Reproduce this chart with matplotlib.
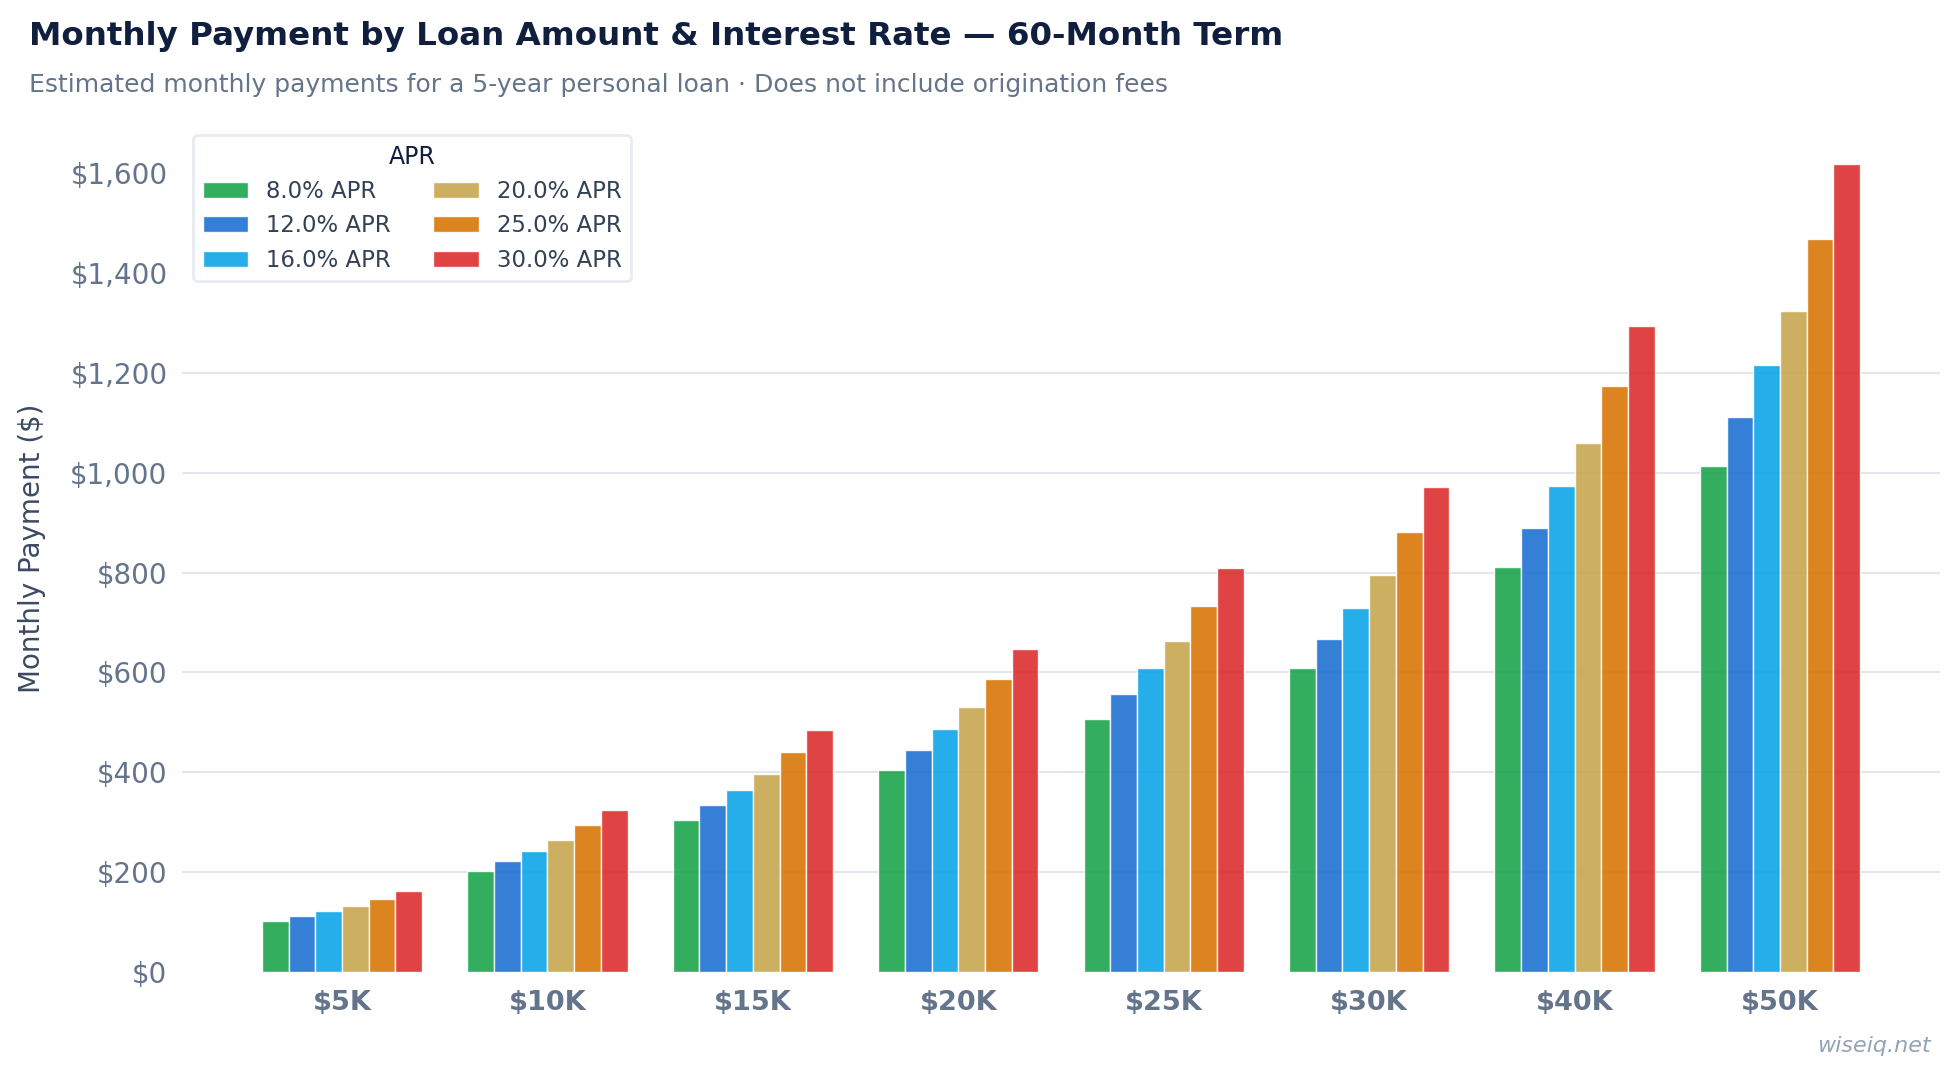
import matplotlib
matplotlib.use("Agg")
import matplotlib.pyplot as plt
import numpy as np
from matplotlib.ticker import FuncFormatter

plt.rcParams['font.family'] = ['DejaVu Sans']

loan_labels = ["$5K", "$10K", "$15K", "$20K", "$25K", "$30K", "$40K", "$50K"]
apr_labels = ["8.0% APR", "12.0% APR", "16.0% APR", "20.0% APR", "25.0% APR", "30.0% APR"]

pay_8 = [101.38, 202.76, 304.15, 405.53, 506.91, 608.29, 811.06, 1013.82]
pay_12 = [111.22, 222.44, 333.67, 444.89, 556.11, 667.33, 889.78, 1112.22]
pay_16 = [121.59, 243.19, 364.78, 486.37, 607.96, 729.56, 972.74, 1215.93]
pay_20 = [132.47, 264.94, 397.42, 529.89, 662.36, 794.83, 1059.78, 1324.72]
pay_25 = [146.76, 293.51, 440.27, 587.03, 733.79, 880.54, 1174.06, 1467.57]
pay_30 = [161.77, 323.54, 485.31, 647.08, 808.85, 970.62, 1294.16, 1617.70]

series = [pay_8, pay_12, pay_16, pay_20, pay_25, pay_30]
colors = ["#1DA54E", "#2071D3", "#0EA5E9", "#C8A750", "#D97706", "#DC2E2E"]

y_ticks = [0, 200, 400, 600, 800, 1000, 1200, 1400, 1600]
grid_vals = [200, 400, 600, 800, 1000, 1200]

fig = plt.figure(figsize=(19.57, 10.72), dpi=100)
ax = fig.add_axes([0.0930, 0.0933, 0.8983, 0.7910])

x = np.arange(len(loan_labels))
w = 0.13
n = len(series)
for i, (vals, c, lab) in enumerate(zip(series, colors, apr_labels)):
    offs = (i - (n - 1) / 2) * w
    ax.bar(x + offs, vals, width=w, color=c, alpha=0.9, edgecolor="white",
           linewidth=1.0, label=lab, zorder=3)

for gv in grid_vals:
    ax.axhline(gv, color="#e2e6ef", linewidth=1.5, zorder=1)

ax.set_yticks(y_ticks)
ax.yaxis.set_major_formatter(FuncFormatter(lambda v, p: f"${v:,.0f}"))
ax.set_xticks(x)
ax.set_xticklabels(loan_labels, fontsize=19.5, fontweight="bold", color="#64748b")
ax.tick_params(axis="y", length=0, pad=10.5, labelsize=20, labelcolor="#64748b")
ax.tick_params(axis="x", length=0, pad=13)
for s in ax.spines.values():
    s.set_visible(False)

ax.set_ylabel("Monthly Payment ($)", fontsize=20, color="#3b4a63", labelpad=17.5)

leg = ax.legend(title="APR", ncol=2, fontsize=16.4, title_fontsize=17,
                loc="upper left", frameon=True, fancybox=True,
                borderaxespad=0.5, columnspacing=1.85, borderpad=0.4)
leg.get_frame().set_edgecolor("#e2e8f0")
leg.get_frame().set_linewidth(2)
leg.get_title().set_color("#0f1f3d")
for t in leg.get_texts():
    t.set_color("#334155")

fig.text(0.0148, 1 - 36.5 / 1072, "Monthly Payment by Loan Amount & Interest Rate \u2014 60-Month Term",
         fontsize=23.4, fontweight="bold", color="#0f1f3d", va="center", ha="left")
fig.text(0.0148, 1 - 85 / 1072, "Estimated monthly payments for a 5-year personal loan \u00b7 Does not include origination fees",
         fontsize=18, color="#64748b", va="center", ha="left")
fig.text(1931 / 1957, 1 - 1046 / 1072, "wiseiq.net", fontsize=16, style="italic",
         color="#94a3b8", ha="right", va="center")

fig.savefig("out.png", dpi=100, facecolor="white")
